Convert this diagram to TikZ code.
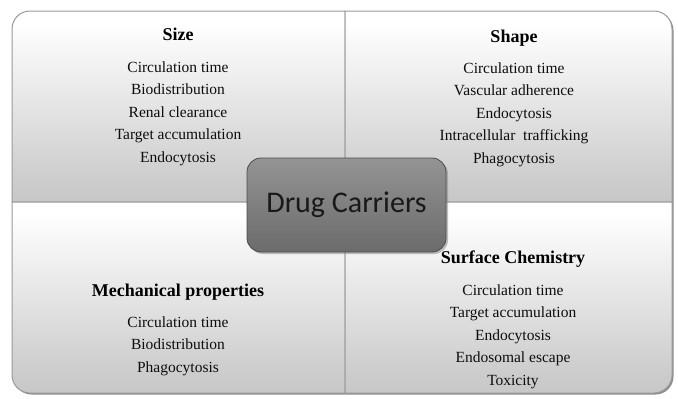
\documentclass[tikz,border=0pt]{standalone}
\usepackage{fontspec}
\setmainfont{Liberation Serif}
\newfontfamily\hubfont{Carlito}
\usetikzlibrary{shadows}
\pgfdeclareverticalshading{quadfade}{100bp}{color(0bp)=(gray!62); color(30bp)=(gray!40); color(72bp)=(white); color(100bp)=(white)}

\begin{document}
\begin{tikzpicture}[x=1pt, y=-1pt,
  quadrant/.style={shading=quadfade, draw=gray!80, line width=1pt,
    drop shadow={shadow xshift=1.5pt, shadow yshift=-1.5pt, opacity=.6, fill=black!75}},
  hub/.style={draw=black!70, line width=.8pt, rounded corners=14pt, top color=black!42, bottom color=black!58,
    minimum width=199pt, minimum height=94pt, font=\hubfont\fontsize{30}{34}\selectfont, text=black!90,
    drop shadow={shadow xshift=2pt, shadow yshift=-2pt, opacity=.5}},
  heading/.style={anchor=base, font=\fontsize{18}{20}\selectfont\bfseries, text=black},
  item/.style={anchor=base, font=\fontsize{15.5}{18}\selectfont, text=black!95}]
\useasboundingbox (0,0) rectangle (678,399);

% the four panels
\shade[quadrant] (345,202) -- (12,202) [rounded corners=18pt] -- (12,11) [sharp corners] -- (345,11) -- cycle;
\shade[quadrant] (345,202) -- (345,11) [rounded corners=18pt] -- (672,11) [sharp corners] -- (672,202) -- cycle;
\shade[quadrant] (345,202) -- (345,393) [rounded corners=18pt] -- (12,393) [sharp corners] -- (12,202) -- cycle;
\shade[quadrant] (345,202) -- (672,202) [rounded corners=18pt] -- (672,393) [sharp corners] -- (345,393) -- cycle;

% Size
\node[heading] (sizetitle) at (178,40) {Size};
\node[item] (size1) at (178,72) {Circulation time};
\node[item] (size2) at (178,94.5) {Biodistribution};
\node[item] (size3) at (178,117) {Renal clearance};
\node[item] (size4) at (178,139.5) {Target accumulation};
\node[item] (size5) at (178,162) {Endocytosis};

% Shape
\node[heading] (shapetitle) at (514,42) {Shape};
\node[item] (shape1) at (514,73) {Circulation time};
\node[item] (shape2) at (514,95.5) {Vascular adherence};
\node[item] (shape3) at (514,118) {Endocytosis};
\node[item] (shape4) at (514,140.5) {Intracellular\ \ trafficking};
\node[item] (shape5) at (514,163) {Phagocytosis};

% Mechanical properties
\node[heading] (mechtitle) at (178,296) {Mechanical properties};
\node[item] (mech1) at (178,327) {Circulation time};
\node[item] (mech2) at (178,349.5) {Biodistribution};
\node[item] (mech3) at (178,372) {Phagocytosis};

% Surface Chemistry
\node[heading] (surftitle) at (513,263) {Surface Chemistry};
\node[item] (surf1) at (513,295) {Circulation time};
\node[item] (surf2) at (513,317.5) {Target accumulation};
\node[item] (surf3) at (513,340) {Endocytosis};
\node[item] (surf4) at (513,362.5) {Endosomal escape};
\node[item] (surf5) at (513,385) {Toxicity};

% centre
\node[hub] (hub) at (346.5,205) {Drug Carriers};
\end{tikzpicture}
\end{document}
